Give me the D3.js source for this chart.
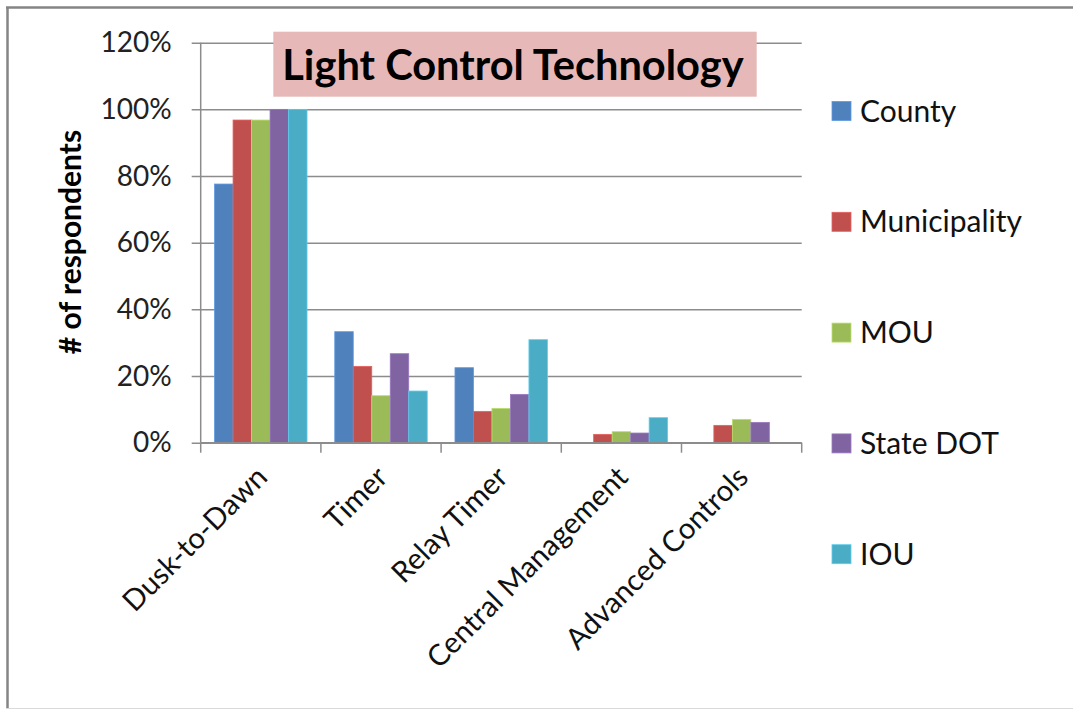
<!DOCTYPE html>
<html>
<head>
<meta charset="utf-8">
<script src="https://cdn.jsdelivr.net/npm/d3@7/dist/d3.min.js"></script>
<style>
  html, body { margin: 0; padding: 0; background: #fff; }
  svg { display: block; font-family: Lato, "Open Sans", sans-serif; }
</style>
</head>
<body>
<svg id="chart" width="1073" height="709"></svg>
<script>
// Technology categories along the x axis
const categories = ["Dusk-to-Dawn", "Timer", "Relay Timer", "Central Management", "Advanced Controls"];
// Respondent groups (one bar per group in each category)
const seriesNames = ["County", "Municipality", "MOU", "State DOT", "IOU"];
const seriesColors = ["#4f81bd", "#c0504d", "#9bbb59", "#8064a2", "#4bacc6"];
// Share of respondents, per group, in category order
const county       = [0.776, 0.333, 0.225, 0.000, 0.000];
const municipality = [0.968, 0.229, 0.094, 0.025, 0.052];
const mou          = [0.968, 0.141, 0.103, 0.033, 0.070];
const stateDot     = [1.000, 0.267, 0.145, 0.029, 0.061];
const iou          = [1.000, 0.155, 0.309, 0.075, 0.000];
const yTicks = [0, 0.2, 0.4, 0.6, 0.8, 1.0, 1.2];

const seriesValues = [county, municipality, mou, stateDot, iou];
const series = seriesNames.map((name, i) => ({ name, color: seriesColors[i], values: seriesValues[i] }));

const svg = d3.select("#chart");

// outer frame
svg.append("line").attr("x1", 7.5).attr("y1", 7).attr("x2", 7.5).attr("y2", 709)
  .attr("stroke", "#858585").attr("stroke-width", 2.5);
svg.append("line").attr("x1", 6).attr("y1", 7.5).attr("x2", 1073).attr("y2", 7.5)
  .attr("stroke", "#858585").attr("stroke-width", 2.5);
svg.append("line").attr("x1", 6).attr("y1", 708.5).attr("x2", 1073).attr("y2", 708.5)
  .attr("stroke", "#dadada").attr("stroke-width", 1);

const plot = { left: 200.7, right: 801.7, top: 42.7, bottom: 442.7 };

const x = d3.scaleBand()
  .domain(categories)
  .range([plot.left, plot.right])
  .paddingInner(1.5 / 6.5)
  .paddingOuter(0.75 / 6.5);

const xs = d3.scaleBand()
  .domain(seriesNames)
  .range([0, x.bandwidth()])
  .padding(0);

const y = d3.scaleLinear().domain([0, 1.2]).range([plot.bottom, plot.top]);

// horizontal gridlines with outer ticks
const yAxis = d3.axisLeft(y)
  .tickValues(yTicks)
  .tickFormat(d3.format(".0%"))
  .tickSize(-(plot.right - plot.left))
  .tickSizeOuter(0)
  .tickPadding(20);

const gy = svg.append("g").attr("transform", `translate(${plot.left},0)`).call(yAxis);
gy.select(".domain").remove();
gy.selectAll(".tick line")
  .attr("x1", -9)
  .attr("stroke", "#8c8c8c").attr("stroke-width", 1.5);
gy.selectAll(".tick text")
  .attr("font-size", 28).attr("fill", "#222")
  .attr("font-family", "Lato, sans-serif")
  .attr("x", -29);

// vertical axis line
svg.append("line")
  .attr("x1", plot.left).attr("x2", plot.left)
  .attr("y1", plot.top).attr("y2", plot.bottom)
  .attr("stroke", "#8c8c8c").attr("stroke-width", 1.5);

// bars
const groups = svg.append("g").selectAll("g")
  .data(series).join("g")
  .attr("fill", d => d.color);

groups.selectAll("rect")
  .data(d => d.values.map((v, i) => ({ name: d.name, cat: categories[i], v, color: d.color })))
  .join("rect")
  .filter(d => d.v > 0)
  .attr("x", d => x(d.cat) + xs(d.name))
  .attr("width", xs.bandwidth())
  .attr("y", d => y(d.v))
  .attr("height", d => y(0) - y(d.v))
  .attr("stroke", d => d3.color(d.color).brighter(0.5))
  .attr("stroke-width", 0.8);

// category axis with ticks at category boundaries
const xAxisG = svg.append("g");
xAxisG.append("line")
  .attr("x1", plot.left).attr("x2", plot.right)
  .attr("y1", plot.bottom).attr("y2", plot.bottom)
  .attr("stroke", "#8c8c8c").attr("stroke-width", 1.5);
const boundaries = categories.map(c => x(c) - x.step() * x.paddingOuter()).concat([plot.right]);
xAxisG.selectAll("line.tick").data(boundaries).join("line")
  .attr("class", "tick")
  .attr("x1", d => d).attr("x2", d => d)
  .attr("y1", plot.bottom).attr("y2", plot.bottom + 10)
  .attr("stroke", "#8c8c8c").attr("stroke-width", 1.5);

xAxisG.selectAll("text").data(categories).join("text")
  .attr("transform", d => `translate(${x(d) + x.bandwidth() / 2 + 1},${plot.bottom + 29}) rotate(-45)`)
  .attr("text-anchor", "end")
  .attr("dy", "0.35em")
  .attr("font-size", 29.3)
  .attr("fill", "#111")
  .text(d => d);

// y axis title
svg.append("text")
  .attr("transform", `translate(70,242) rotate(-90)`)
  .attr("text-anchor", "middle")
  .attr("dy", "0.35em")
  .attr("font-size", 30)
  .attr("font-weight", "bold")
  .attr("fill", "#000")
  .text("# of respondents");

// chart title on a shaded box
svg.append("rect")
  .attr("x", 273.3).attr("y", 31.7)
  .attr("width", 483.4).attr("height", 65)
  .attr("fill", "#e6b9b8");
svg.append("text")
  .attr("x", 513).attr("y", 65.5)
  .attr("text-anchor", "middle")
  .attr("dy", "0.35em")
  .attr("font-size", 41.6)
  .attr("font-weight", "bold")
  .attr("fill", "#000")
  .text("Light Control Technology");

// legend
const legend = svg.append("g").selectAll("g")
  .data(series).join("g")
  .attr("transform", (d, i) => `translate(832,${111 + i * 110.8})`);
legend.append("rect")
  .attr("x", 0).attr("y", -9.5)
  .attr("width", 19).attr("height", 19)
  .attr("fill", d => d.color)
  .attr("stroke", d => d3.color(d.color).brighter(0.5))
  .attr("stroke-width", 0.8);
legend.append("text")
  .attr("x", 28).attr("y", 0)
  .attr("dy", "0.35em")
  .attr("font-size", 30)
  .attr("fill", "#111")
  .text(d => d.name);
</script>
</body>
</html>
